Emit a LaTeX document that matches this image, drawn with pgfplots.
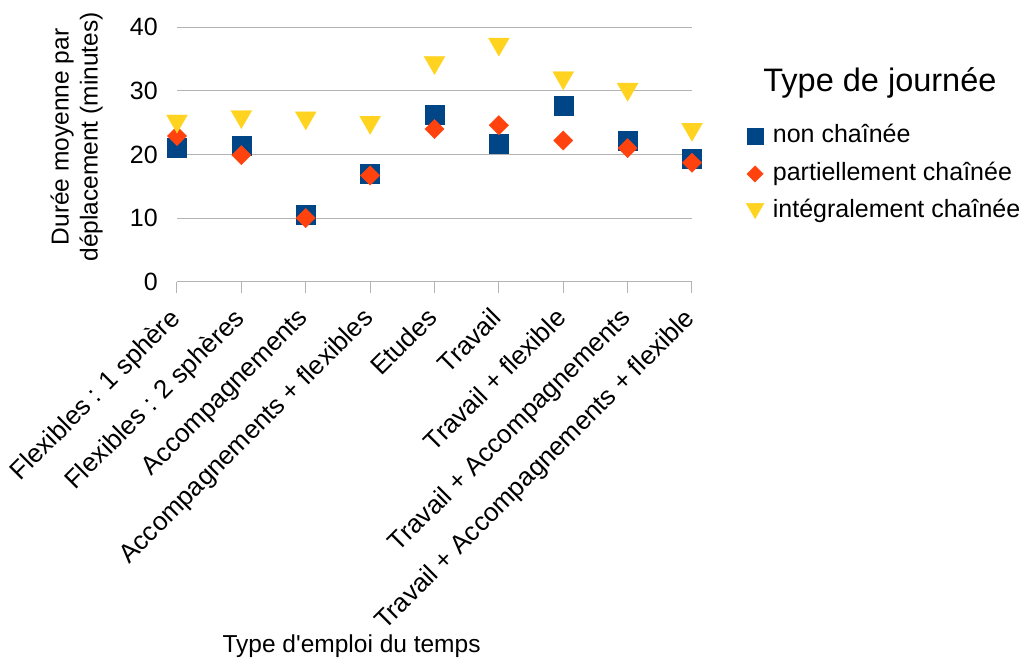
\documentclass[border=0pt]{standalone}
\usepackage{pgfplots}
\pgfplotsset{compat=1.18}
\usepackage{fontspec}
\setmainfont{Liberation Sans}
\newfontfamily\plainfont{Liberation Sans}
\definecolor{cblue}{HTML}{004586}
\definecolor{corange}{HTML}{FF420E}
\definecolor{cyellow}{HTML}{FFD320}
\definecolor{cgrid}{HTML}{B3B3B3}
\begin{document}
\begin{tikzpicture}
\useasboundingbox (0pt,0pt) rectangle (1026pt,661pt);
\begin{axis}[
  at={(177pt,379.3pt)}, anchor=south west,
  scale only axis, width=515pt, height=254.4pt,
  xmin=0, xmax=8, ymin=0, ymax=40,
  clip=false,
  axis lines*=left,
  x axis line style={draw=cgrid, line width=1pt},
  y axis line style={draw=none},
  ymajorgrids, grid style={draw=cgrid, line width=1pt},
  ytick={0,10,20,30,40},
  xtick={0,1,2,3,4,5,6,7,8},
  xticklabels={Flexibles : 1 sphère, Flexibles : 2 sphères, Accompagnements, Accompagnements + flexibles, Etudes, Travail, Travail + flexible, Travail + Accompagnements, Travail + Accompagnements + flexible},
  tick align=outside, major tick length=11pt,
  ytick style={draw=none},
  xtick style={draw=cgrid, line width=1pt},
  /pgf/number format/assume math mode=true,
  yticklabel style={inner sep=0pt, xshift=-8pt, font=\fontsize{25}{30}\selectfont},
  xticklabel style={rotate=45, anchor=north east, inner sep=0pt, xshift=-16pt, yshift=-3pt, font=\fontsize{26}{31}\selectfont},
  xlabel={Type d'emploi du temps},
  xlabel style={at={(rel axis cs:0.339,-1.431)}, anchor=center, font=\plainfont\fontsize{24.5}{29}\selectfont},
  ylabel={Durée moyenne par\\déplacement (minutes)},
  ylabel style={at={(rel axis cs:-0.195,0.569)}, anchor=center, align=center, font=\fontsize{24.5}{29}\selectfont},
  legend style={at={(rel axis cs:1.105,0.617)}, anchor=north west, draw=none, fill=none, inner sep=0pt,
    column sep=0pt, row sep=14.5pt,
    nodes={inner sep=0pt, text height=18pt, text depth=5pt},
    /tikz/every odd column/.append style={column sep=9pt},
    font=\fontsize{25}{30}\selectfont},
  legend cell align=left,
  legend image code/.code={\draw[#1, /tikz/every mark/.append style={scale=0.85}] plot coordinates {(0pt,0pt)};},
]
\addplot[only marks, mark=square*, mark size=9.5pt, color=cblue, fill=cblue] coordinates {
 (0,21.1) (1,21.4) (2,10.5) (3,17.0) (4,26.2) (5,21.7) (6,27.6) (7,22.1) (8,19.3)};
\addlegendentry{non chaînée}
\addplot[only marks, mark=square*, mark size=6.8pt, mark options={rotate=45}, color=corange, fill=corange] coordinates {
 (0,22.9) (1,19.9) (2,10.0) (3,16.7) (4,24.0) (5,24.6) (6,22.2) (7,21.0) (8,18.7)};
\addlegendentry{partiellement chaînée}
\addplot[only marks, mark=triangle*, mark size=12pt, mark options={yshift=3pt, rotate=180}, color=cyellow, fill=cyellow] coordinates {
 (0,24.8) (1,25.5) (2,25.3) (3,24.6) (4,34.0) (5,36.9) (6,31.6) (7,29.8) (8,23.5)};
\addlegendentry{intégralement chaînée}
\node[anchor=base, font=\fontsize{32.5}{38}\selectfont] at (rel axis cs:1.365,0.747) {Type de journée};
\end{axis}
\end{tikzpicture}
\end{document}
